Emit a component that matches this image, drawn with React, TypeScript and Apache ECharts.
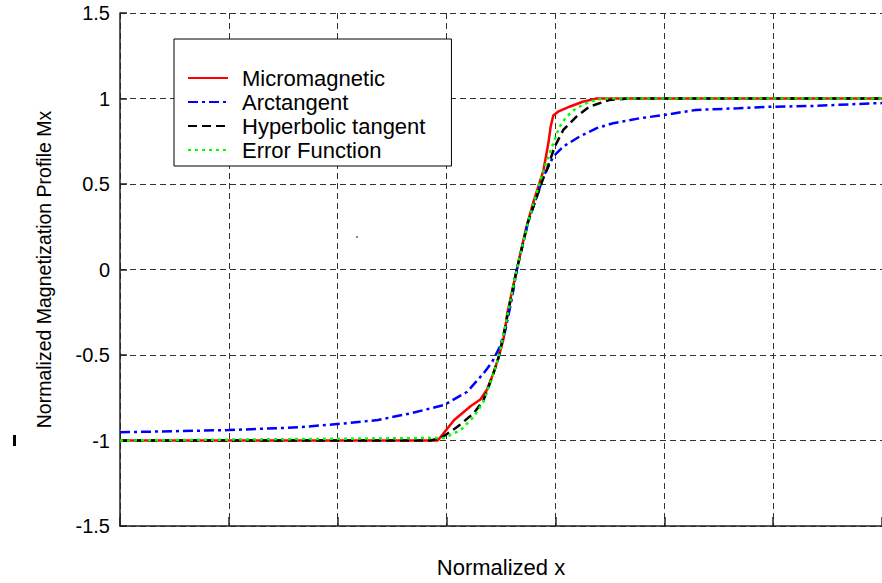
import React, { useEffect, useRef } from "react";
import * as echarts from "echarts";

const seriesNames = ["Micromagnetic", "Arctangent", "Hyperbolic tangent", "Error Function"];

const micromagnetic: number[][] = [
  [0, -1], [2.92, -1], [2.95, -0.975], [3.07, -0.88], [3.22, -0.8], [3.31, -0.76],
  [3.37, -0.705], [3.43, -0.607], [3.48, -0.51], [3.525, -0.4], [3.56, -0.25],
  [3.645, 0], [3.73, 0.24], [3.8, 0.4], [3.89, 0.58], [3.935, 0.738], [3.956, 0.835],
  [3.98, 0.9], [4.03, 0.925], [4.13, 0.952], [4.25, 0.981], [4.38, 1.0], [7, 1],
];

const arctangent: number[][] = [
  [0, -0.952], [1.0, -0.939], [1.64, -0.923], [2.1, -0.898], [2.37, -0.88],
  [2.67, -0.841], [2.98, -0.792], [3.19, -0.715], [3.34, -0.607], [3.42, -0.539],
  [3.49, -0.451], [3.54, -0.354], [3.6, -0.17], [3.646, 0], [3.75, 0.28],
  [3.89, 0.543], [3.98, 0.66], [4.07, 0.718], [4.22, 0.777], [4.38, 0.827],
  [4.53, 0.855], [4.77, 0.884], [5.0, 0.904], [5.29, 0.933], [5.68, 0.943],
  [5.99, 0.952], [6.35, 0.956], [6.93, 0.972], [7, 0.973],
];

const hyperbolicTangent: number[][] = [
  [0, -1], [2.85, -1], [2.95, -0.985], [3.1, -0.92], [3.25, -0.84], [3.34, -0.763],
  [3.42, -0.627], [3.48, -0.51], [3.54, -0.33], [3.645, 0], [3.75, 0.28],
  [3.88, 0.52], [3.92, 0.582], [3.993, 0.718], [4.072, 0.816], [4.193, 0.894],
  [4.312, 0.952], [4.494, 0.991], [4.676, 1.0], [7, 1],
];

const errorFunction: number[][] = [
  [0, -1], [2.98, -0.985], [3.13, -0.939], [3.25, -0.861], [3.34, -0.773],
  [3.42, -0.627], [3.48, -0.51], [3.54, -0.33], [3.645, 0], [3.75, 0.28],
  [3.89, 0.58], [3.981, 0.74], [4.038, 0.835], [4.102, 0.894], [4.193, 0.944],
  [4.312, 0.981], [4.437, 1.0], [7, 1],
];

const xAxisName = "Normalized x";
const yAxisName = "Normalized Magnetization Profile Mx";

const FONT = "'Liberation Sans', Arial, sans-serif";

export default function App() {
  const ref = useRef<HTMLDivElement>(null);
  useEffect(() => {
    if (!ref.current) return;
    const chart = echarts.init(ref.current, null, { renderer: "svg" });
    const gridLine = { show: true, lineStyle: { color: "#333", width: 1, type: [6, 4] as number[] } };
    chart.setOption({
      animation: false,
      backgroundColor: "#fff",
      textStyle: { fontFamily: FONT },
      grid: { left: 120, top: 13, bottom: 57, right: -6, containLabel: false },
      legend: {
        orient: "vertical",
        left: 174,
        top: 39,
        padding: [28, 26, 5, 13],
        itemWidth: 40,
        itemHeight: 14,
        itemGap: 2,
        backgroundColor: "#fff",
        borderColor: "#000",
        borderWidth: 1,
        borderRadius: 0,
        selectedMode: false,
        itemStyle: { opacity: 0 },
        textStyle: { fontSize: 22, color: "#000", fontFamily: FONT, padding: [0, 0, 0, 9] },
        data: seriesNames,
      },
      xAxis: {
        type: "value",
        min: 0,
        max: 7,
        interval: 1,
        name: xAxisName,
        nameLocation: "middle",
        nameGap: 30,
        nameTextStyle: { fontSize: 22, color: "#000", fontFamily: FONT },
        axisLine: { show: true, onZero: false, lineStyle: { color: "#222", width: 1.5 } },
        axisTick: { show: true, inside: true, length: 9, lineStyle: { color: "#222", width: 1.5 } },
        axisLabel: { show: false },
        splitLine: gridLine,
      },
      yAxis: {
        type: "value",
        min: -1.5,
        max: 1.5,
        interval: 0.5,
        name: yAxisName,
        nameLocation: "middle",
        nameGap: 66,
        nameTextStyle: { fontSize: 19.5, color: "#000", fontFamily: FONT },
        axisLine: { show: true, onZero: false, lineStyle: { color: "#222", width: 1.5 } },
        axisTick: { show: true, inside: true, length: 7, lineStyle: { color: "#222", width: 1.5 } },
        axisLabel: { show: true, fontSize: 20, color: "#000", fontFamily: FONT, margin: 10 },
        splitLine: gridLine,
      },
      series: [
        {
          name: seriesNames[0], type: "line", symbol: "none", data: micromagnetic,
          lineStyle: { color: "#ff0000", width: 2.5, type: "solid" }, itemStyle: { color: "#ff0000" },
        },
        {
          name: seriesNames[1], type: "line", symbol: "none", data: arctangent,
          lineStyle: { color: "#0000ff", width: 2.5, type: [10, 4, 3, 4] }, itemStyle: { color: "#0000ff" },
        },
        {
          name: seriesNames[2], type: "line", symbol: "none", data: hyperbolicTangent,
          lineStyle: { color: "#000000", width: 2.5, type: [9, 5] }, itemStyle: { color: "#000000" },
        },
        {
          name: seriesNames[3], type: "line", symbol: "none", data: errorFunction,
          lineStyle: { color: "#00ff00", width: 2.5, type: [3, 4] }, itemStyle: { color: "#00ff00" },
        },
      ],
      graphic: [
        { type: "rect", shape: { x: 13, y: 435, width: 3, height: 11 }, style: { fill: "#000" }, silent: true },
        { type: "rect", shape: { x: 356, y: 236, width: 2, height: 2 }, style: { fill: "#888" }, silent: true },
      ],
    });
    return () => chart.dispose();
  }, []);
  return (
    <div
      ref={ref}
      style={{ position: "absolute", left: 0, top: 0, width: 882, height: 583 }}
    />
  );
}
